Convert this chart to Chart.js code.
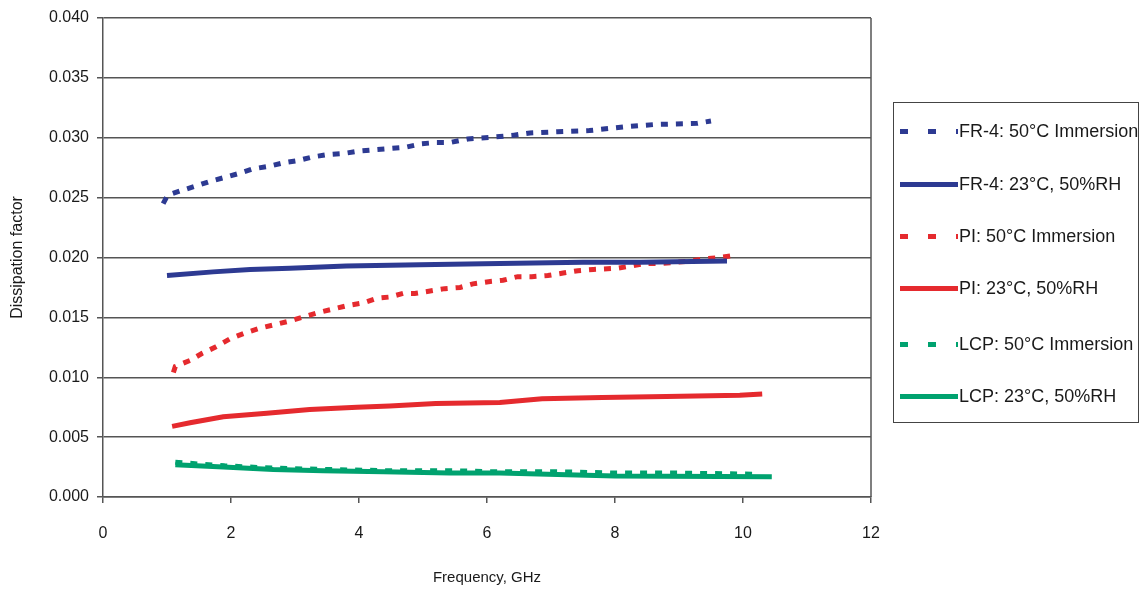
<!DOCTYPE html>
<html>
<head>
<meta charset="utf-8">
<title>Dissipation factor vs frequency</title>
<script src="https://cdn.jsdelivr.net/npm/chart.js@4.4.0/dist/chart.umd.min.js"></script>
<style>
    html, body { margin: 0; padding: 0; background: #fff; }
    #wrap { position: relative; width: 1145px; height: 598px; }
    #legend {
        position: absolute; left: 893px; top: 102px; width: 244px; height: 319px;
        border: 1.5px solid #444; box-sizing: content-box;
        font: 18px "Liberation Sans", Arial, sans-serif; color: #1a1a1a;
    }
    .item { position: absolute; left: 6px; height: 22px; display: flex; align-items: center; white-space: nowrap; }
    .swatch { width: 58px; height: 5px; margin-right: 1px; }
</style>
</head>
<body>
<div id="wrap">
    <canvas id="chart" width="1145" height="598"></canvas>
    <div id="legend"></div>
</div>
<script>
// Series names (legend order)
const seriesLabels = [
    'FR-4: 50°C Immersion',
    'FR-4: 23°C, 50%RH',
    'PI: 50°C Immersion',
    'PI: 23°C, 50%RH',
    'LCP: 50°C Immersion',
    'LCP: 23°C, 50%RH'
];

// FR-4, 50°C immersion
const fr4ImmFreq = [0.94, 1.01, 1.23, 1.47, 1.70, 1.91, 2.11, 2.34, 2.58, 2.81, 3.05, 3.28, 3.52, 3.78, 4.02, 4.25, 4.48, 4.72, 4.98, 5.20, 5.42, 5.70, 5.97, 6.20, 6.40, 6.67, 7.10, 7.60, 8.13, 8.60, 9.28, 9.50];
const fr4ImmDf   = [0.0245, 0.0252, 0.0256, 0.0260, 0.0264, 0.0267, 0.0270, 0.0274, 0.0276, 0.0279, 0.0281, 0.0284, 0.0286, 0.0287, 0.0289, 0.0290, 0.0291, 0.0292, 0.0295, 0.0296, 0.0296, 0.0299, 0.0300, 0.0301, 0.0302, 0.0304, 0.0305, 0.0306, 0.0309, 0.0311, 0.0312, 0.0314];

// FR-4, 23°C 50%RH
const fr4RhFreq = [1.00, 1.72, 2.30, 2.92, 3.80, 4.95, 6.20, 7.50, 8.40, 9.75];
const fr4RhDf   = [0.0185, 0.0188, 0.0190, 0.0191, 0.0193, 0.0194, 0.0195, 0.0196, 0.0196, 0.0197];

// PI, 50°C immersion
const piImmFreq = [1.10, 1.13, 1.36, 1.55, 1.75, 1.98, 2.22, 2.45, 2.69, 2.92, 3.11, 3.36, 3.60, 3.83, 4.06, 4.28, 4.48, 4.69, 4.87, 5.11, 5.34, 5.58, 5.78, 6.05, 6.25, 6.48, 6.70, 6.95, 7.19, 7.42, 7.66, 8.03, 8.27, 8.47, 8.70, 8.94, 9.17, 9.40, 9.64, 9.90];
const piImmDf   = [0.0104, 0.0109, 0.0114, 0.0120, 0.0125, 0.0132, 0.0137, 0.0141, 0.0144, 0.0147, 0.0150, 0.0154, 0.0157, 0.0160, 0.0162, 0.0166, 0.0167, 0.0170, 0.0170, 0.0172, 0.0174, 0.0175, 0.0178, 0.0180, 0.0181, 0.0184, 0.0184, 0.0185, 0.0187, 0.0189, 0.0190, 0.0191, 0.0193, 0.0195, 0.0195, 0.0196, 0.0197, 0.0199, 0.0200, 0.0202];

// PI, 23°C 50%RH
const piRhFreq = [1.08, 1.36, 1.88, 2.56, 3.23, 3.97, 4.48, 5.20, 6.20, 6.86, 7.80, 8.80, 9.95, 10.30];
const piRhDf   = [0.0059, 0.0062, 0.0067, 0.0070, 0.0073, 0.0075, 0.0076, 0.0078, 0.0079, 0.0082, 0.0083, 0.0084, 0.0085, 0.0086];

// LCP, 50°C immersion
const lcpImmFreq = [1.13, 1.90, 2.70, 3.50, 4.40, 5.40, 6.20, 7.20, 8.00, 9.00, 10.20];
const lcpImmDf   = [0.0029, 0.0026, 0.0024, 0.0023, 0.0022, 0.0022, 0.0021, 0.0021, 0.0020, 0.0020, 0.0019];

// LCP, 23°C 50%RH
const lcpRhFreq = [1.13, 1.88, 2.66, 3.44, 4.38, 5.42, 6.20, 8.00, 10.45];
const lcpRhDf   = [0.0027, 0.0025, 0.0023, 0.0022, 0.0021, 0.0020, 0.0020, 0.00175, 0.0017];

// Axis ticks
const xTicks = [0, 2, 4, 6, 8, 10, 12];
const yTicks = [0, 0.005, 0.010, 0.015, 0.020, 0.025, 0.030, 0.035, 0.040];

const BLUE = '#2d3a92';
const RED = '#e52a2e';
const GREEN = '#00a26f';
const AXIS = '#555';
const TEXT = '#1a1a1a';
const FONT = '"Liberation Sans", Arial, sans-serif';

function pairs(xs, ys) {
    return xs.map((x, i) => ({ x: x, y: ys[i] }));
}

function series(label, xs, ys, color, dashed) {
    return {
        label: label,
        data: pairs(xs, ys),
        borderColor: color,
        backgroundColor: color,
        borderWidth: 5,
        borderDash: dashed ? [7, 8] : [],
        borderCapStyle: 'butt',
        pointRadius: 0,
        tension: 0,
        fill: false
    };
}

const colors = [BLUE, BLUE, RED, RED, GREEN, GREEN];
const dashedFlags = [true, false, true, false, true, false];

// draws right edge of the plot box
const frameBox = {
    id: 'frameBox',
    afterDraw(chart) {
        const { ctx, chartArea: a } = chart;
        ctx.save();
        ctx.strokeStyle = AXIS;
        ctx.lineWidth = 1.5;
        ctx.beginPath();
        ctx.moveTo(a.right, a.top);
        ctx.lineTo(a.right, a.bottom);
        ctx.stroke();
        ctx.restore();
    }
};

function buildLegend() {
    const box = document.getElementById('legend');
    const centers = [28, 81, 133, 185, 241, 293];
    seriesLabels.forEach((label, i) => {
        const item = document.createElement('div');
        item.className = 'item';
        item.style.top = (centers[i] - 11) + 'px';
        const sw = document.createElement('div');
        sw.className = 'swatch';
        sw.style.background = dashedFlags[i]
            ? `repeating-linear-gradient(to right, ${colors[i]} 0 8px, transparent 8px 28px)`
            : colors[i];
        const txt = document.createElement('span');
        txt.textContent = label;
        item.appendChild(sw);
        item.appendChild(txt);
        box.appendChild(item);
    });
}

function renderChart() {
    const ctx = document.getElementById('chart').getContext('2d');
    new Chart(ctx, {
        type: 'line',
        data: {
            datasets: [
                series(seriesLabels[0], fr4ImmFreq, fr4ImmDf, colors[0], dashedFlags[0]),
                series(seriesLabels[1], fr4RhFreq, fr4RhDf, colors[1], dashedFlags[1]),
                series(seriesLabels[2], piImmFreq, piImmDf, colors[2], dashedFlags[2]),
                series(seriesLabels[3], piRhFreq, piRhDf, colors[3], dashedFlags[3]),
                series(seriesLabels[4], lcpImmFreq, lcpImmDf, colors[4], dashedFlags[4]),
                series(seriesLabels[5], lcpRhFreq, lcpRhDf, colors[5], dashedFlags[5])
            ]
        },
        options: {
            responsive: false,
            animation: false,
            devicePixelRatio: 1,
            layout: { padding: { left: 0, right: 274, top: 18, bottom: 0 } },
            plugins: {
                legend: { display: false },
                tooltip: { enabled: false }
            },
            scales: {
                x: {
                    type: 'linear',
                    min: 0,
                    max: 12,
                    afterBuildTicks: s => { s.ticks = xTicks.map(v => ({ value: v })); },
                    afterFit: s => { s.height = 101; },
                    grid: { drawOnChartArea: false, drawTicks: true, tickLength: 6, color: AXIS, lineWidth: 1.5 },
                    border: { display: true, color: AXIS, width: 1.5 },
                    ticks: { padding: 21, color: TEXT, font: { family: FONT, size: 16 } },
                    title: {
                        display: true,
                        text: 'Frequency, GHz',
                        color: TEXT,
                        font: { family: FONT, size: 15 },
                        padding: { top: 4, bottom: 11 }
                    }
                },
                y: {
                    min: 0,
                    max: 0.04,
                    afterBuildTicks: s => { s.ticks = yTicks.map(v => ({ value: v })); },
                    afterFit: s => { s.width = 103; },
                    grid: { drawOnChartArea: true, drawTicks: true, tickLength: 6, color: AXIS, lineWidth: 1.5 },
                    border: { display: true, color: AXIS, width: 1.5 },
                    ticks: {
                        padding: 8,
                        color: TEXT,
                        font: { family: FONT, size: 16 },
                        callback: v => v.toFixed(3)
                    },
                    title: {
                        display: true,
                        text: 'Dissipation factor',
                        color: TEXT,
                        font: { family: FONT, size: 16 },
                        padding: { top: 8, bottom: 4 }
                    }
                }
            }
        },
        plugins: [frameBox]
    });
}

window.addEventListener('DOMContentLoaded', () => {
    buildLegend();
    renderChart();
});
</script>
</body>
</html>
